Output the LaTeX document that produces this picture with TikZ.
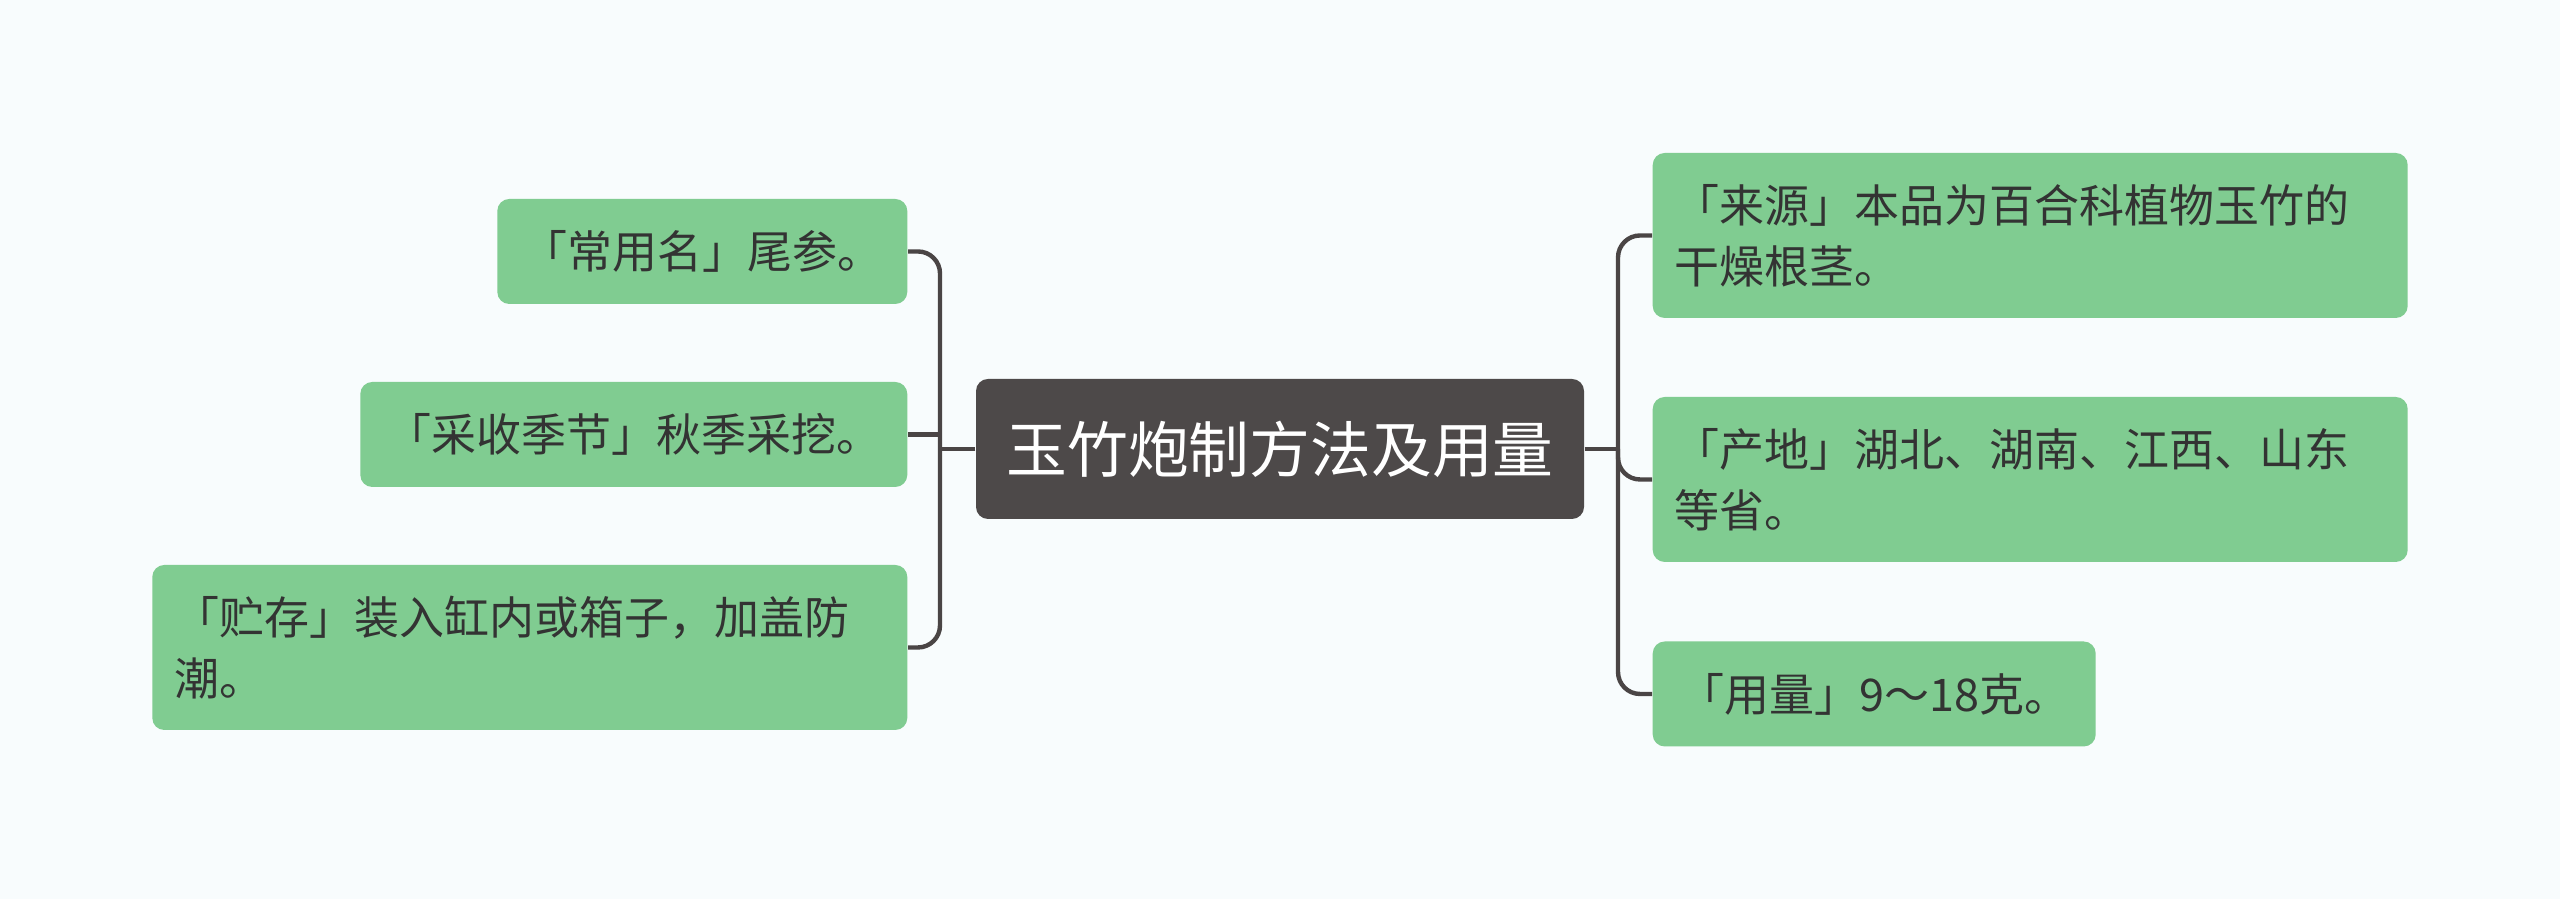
\documentclass[tikz,border=0pt]{standalone}
\usepackage{fontspec}
\setmainfont{Noto Sans CJK SC}
\definecolor{bgcol}{HTML}{F8FCFD}
\definecolor{leafgreen}{HTML}{80CC91}
\definecolor{hubgray}{HTML}{4D4949}
\definecolor{linkgray}{HTML}{4A4545}
\definecolor{textgray}{HTML}{333333}
\begin{document}
\begin{tikzpicture}[
    leaf/.style={fill=leafgreen, rounded corners=0.12cm, text=textgray, inner sep=0pt,
        minimum height=1.05cm, font=\fontsize{12.8pt}{17.3pt}\selectfont},
    twoline/.style={leaf, minimum height=1.65cm, text width=7.11cm, inner xsep=0.22cm, align=left},
    link/.style={draw=linkgray, line width=1.25pt, rounded corners=0.22cm}]
    \fill[bgcol] (0,0) rectangle (25.6,8.99);
    \useasboundingbox (0,0) rectangle (25.6,8.99);
    \node[fill=hubgray, rounded corners=0.12cm, text=white, minimum width=6.08cm, minimum height=1.40cm,
        font=\fontsize{17.3pt}{20pt}\selectfont] (hub) at (12.80,4.50) {玉竹炮制方法及用量};
    % left side
    \node[leaf, anchor=east, minimum width=4.10cm] (name) at (9.08,6.475) {「常用名」尾参。};
    \node[leaf, anchor=east, minimum width=5.47cm] (season) at (9.08,4.645) {「采收季节」秋季采挖。};
    \node[twoline, anchor=east] (store) at (9.08,2.515) {「贮存」装入缸内或箱子，加盖防\\潮。};
    % right side
    \node[twoline, anchor=west] (source) at (16.52,6.635) {「来源」本品为百合科植物玉竹的\\干燥根茎。};
    \node[twoline, anchor=west] (origin) at (16.52,4.195) {「产地」湖北、湖南、江西、山东\\等省。};
    \node[leaf, anchor=west, minimum width=4.43cm] (dose) at (16.52,2.05) {「用量」9～18克。};
    % connectors
    \coordinate (ltrunk) at (9.40,4.50);
    \coordinate (rtrunk) at (16.18,4.50);
    \draw[link] (hub.west) -- (ltrunk);
    \draw[link] (name.east) -| (ltrunk) |- (store.east);
    \draw[link] (season.east) -- (season.east -| ltrunk);
    \draw[link] (hub.east) -- (rtrunk);
    \draw[link] (source.west) -| (rtrunk) |- (dose.west);
    \draw[link] (rtrunk) |- (origin.west);
\end{tikzpicture}
\end{document}
